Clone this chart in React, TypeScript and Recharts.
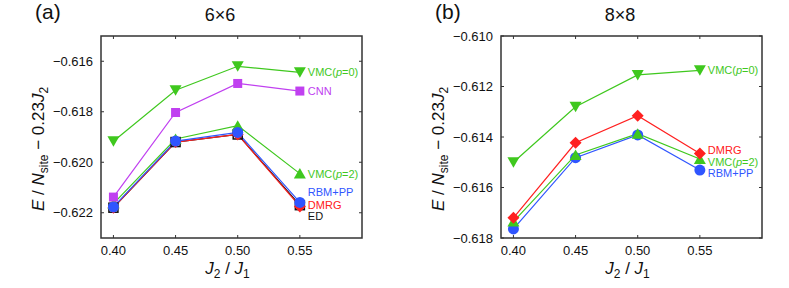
import { LineChart, Line, XAxis, YAxis } from 'recharts';

// J2/J1 values
const X_VALUES = [0.4, 0.45, 0.5, 0.55];
const X_TICKS = [0.4, 0.45, 0.5, 0.55];
const X_DOMAIN: [number, number] = [0.39, 0.6];

// 6x6 lattice
const Y_TICKS_6 = [-0.622, -0.62, -0.618, -0.616];
const VMC0_6 = [-0.61917, -0.61715, -0.6162, -0.61644];
const CNN_6 = [-0.62138, -0.61803, -0.61688, -0.61718];
const VMC2_6 = [-0.62164, -0.61908, -0.61855, -0.62045];
const RBM_6 = [-0.62177, -0.61916, -0.61882, -0.62159];
const DMRG_6 = [-0.6218, -0.6192, -0.6189, -0.62175];
const ED_6 = [-0.6218, -0.6192, -0.6189, -0.6217];

// 8x8 lattice
const Y_TICKS_8 = [-0.618, -0.616, -0.614, -0.612, -0.61];
const VMC0_8 = [-0.615, -0.6128, -0.61154, -0.61136];
const DMRG_8 = [-0.6172, -0.61423, -0.61316, -0.61465];
const VMC2_8 = [-0.61735, -0.61471, -0.61387, -0.61487];
const RBM_8 = [-0.61764, -0.61482, -0.61392, -0.61531];

const GREEN = '#3fc81e';
const PURPLE = '#c040f0';
const BLUE = '#2f55ff';
const RED = '#ff2020';
const BLACK = '#111111';
const AXIS = '#333333';
const FONT = '"Liberation Sans", Arial, Helvetica, sans-serif';

// panel layout
const CHART_W = 389;
const CHART_H = 288;
const MARGIN = { top: 36, right: 27, bottom: 20, left: 41 };
const Y_AXIS_W = 60;
const X_AXIS_H = 30;
const PLOT_X = MARGIN.left + Y_AXIS_W;
const PLOT_W = CHART_W - PLOT_X - MARGIN.right;
const PLOT_H = CHART_H - MARGIN.top - MARGIN.bottom - X_AXIS_H;
const TICK = 3;

type Shape = 'down' | 'up' | 'square' | 'openSquare' | 'circle' | 'diamond';

interface SeriesDef {
  key: string;
  name: string;
  color: string;
  shape: Shape;
  labelDy: number;
}

const Marker = ({ cx, cy, shape, color }: { cx: number; cy: number; shape: Shape; color: string }) => {
  switch (shape) {
    case 'down':
      return <polygon points={`${cx - 6},${cy - 5} ${cx + 6},${cy - 5} ${cx},${cy + 5.5}`} fill={color} />;
    case 'up':
      return <polygon points={`${cx - 6},${cy + 5} ${cx + 6},${cy + 5} ${cx},${cy - 5.5}`} fill={color} />;
    case 'square':
      return <rect x={cx - 4.5} y={cy - 4.5} width={9} height={9} fill={color} />;
    case 'openSquare':
      return <rect x={cx - 4.5} y={cy - 4.5} width={9} height={9} fill="none" stroke={color} strokeWidth={1.5} />;
    case 'circle':
      return <circle cx={cx} cy={cy} r={5.5} fill={color} />;
    default:
      return <polygon points={`${cx},${cy - 6} ${cx + 6},${cy} ${cx},${cy + 6} ${cx - 6},${cy}`} fill={color} />;
  }
};

// italic "p" inside VMC(p=..)
const labelText = (name: string) => {
  if (name.startsWith('VMC(')) {
    return (
      <>
        VMC(<tspan fontStyle="italic">p</tspan>
        {name.slice(5)}
      </>
    );
  }
  return name;
};

const fmtY = (v: number) => `\u2212${Math.abs(v).toFixed(3)}`;
const fmtX = (v: number) => v.toFixed(2);

// left tick: label + inward tick + mirrored tick on the right edge
const YTick = ({ x, y, payload }: any) => (
  <g>
    <line x1={x} y1={y} x2={x + TICK} y2={y} stroke={AXIS} />
    <line x1={x + PLOT_W} y1={y} x2={x + PLOT_W - TICK} y2={y} stroke={AXIS} />
    <text x={x - 8} y={y} dy="0.36em" textAnchor="end" fontSize={13} fontFamily={FONT} fill="#111">
      {fmtY(payload.value)}
    </text>
  </g>
);

// bottom tick: label + inward tick + mirrored tick on the top edge
const XTick = ({ x, y, payload }: any) => (
  <g>
    <line x1={x} y1={y} x2={x} y2={y - TICK} stroke={AXIS} />
    <line x1={x} y1={y - PLOT_H} x2={x} y2={y - PLOT_H + TICK} stroke={AXIS} />
    <text x={x} y={y + 17} textAnchor="middle" fontSize={13} fontFamily={FONT} fill="#111">
      {fmtX(payload.value)}
    </text>
  </g>
);

const YLabel = ({ viewBox }: any) => {
  const x = viewBox.x + 3;
  const y = viewBox.y + viewBox.height / 2 + 12;
  return (
    <text x={x} y={y} transform={`rotate(-90, ${x}, ${y})`} textAnchor="middle" fontSize={17} fontFamily={FONT} fill="#111">
      <tspan fontStyle="italic">E</tspan> / <tspan fontStyle="italic">N</tspan>
      <tspan fontSize={12} dy={4}>site</tspan>
      <tspan dy={-4}> {'\u2212'} 0.23</tspan>
      <tspan fontStyle="italic">J</tspan>
      <tspan fontSize={12} dy={4}>2</tspan>
    </text>
  );
};

const XLabel = ({ viewBox }: any) => {
  const x = viewBox.x + viewBox.width / 2 - 4;
  const y = viewBox.y + 36;
  return (
    <text x={x} y={y} textAnchor="middle" fontSize={17} fontFamily={FONT} fill="#111">
      <tspan fontStyle="italic">J</tspan>
      <tspan fontSize={12} dy={4}>2</tspan>
      <tspan dy={-4}> / </tspan>
      <tspan fontStyle="italic">J</tspan>
      <tspan fontSize={12} dy={4}>1</tspan>
    </text>
  );
};

interface PanelProps {
  tag: string;
  title: string;
  left: number;
  rows: Record<string, number>[];
  series: SeriesDef[];
  yDomain: [number, number];
  yTicks: number[];
}

const Panel = ({ tag, title, left, rows, series, yDomain, yTicks }: PanelProps) => {
  const last = rows.length - 1;
  return (
    <div style={{ position: 'absolute', left, top: 0, width: CHART_W, height: CHART_H }}>
      <LineChart width={CHART_W} height={CHART_H} data={rows} margin={MARGIN}>
        <XAxis
          dataKey="x"
          type="number"
          domain={X_DOMAIN}
          ticks={X_TICKS}
          tick={<XTick />}
          tickLine={false}
          tickSize={0}
          tickMargin={0}
          height={X_AXIS_H}
          allowDataOverflow
          axisLine={false}
          label={(p: any) => <XLabel {...p} />}
        />
        <YAxis
          type="number"
          domain={yDomain}
          ticks={yTicks}
          tick={<YTick />}
          tickLine={false}
          tickSize={0}
          tickMargin={0}
          width={Y_AXIS_W}
          allowDataOverflow
          axisLine={false}
          label={(p: any) => <YLabel {...p} />}
        />
        {series.map((s) => (
          <Line
            key={s.key}
            type="linear"
            dataKey={s.key}
            stroke={s.color}
            strokeWidth={1.2}
            isAnimationActive={false}
            activeDot={false}
            dot={(p: any) => (
              <g key={`${s.key}-${p.index}`}>
                <Marker cx={p.cx} cy={p.cy} shape={s.shape} color={s.color} />
                {p.index === last && (
                  <text
                    x={p.cx + 8}
                    y={p.cy + s.labelDy}
                    dy="0.36em"
                    fontSize={11}
                    fontFamily={FONT}
                    fill={s.shape === 'openSquare' ? BLACK : s.color}
                  >
                    {labelText(s.name)}
                  </text>
                )}
              </g>
            )}
          />
        ))}
      </LineChart>
      <svg width={CHART_W} height={CHART_H} style={{ position: 'absolute', left: 0, top: 0, pointerEvents: 'none' }}>
        <rect x={PLOT_X} y={MARGIN.top} width={PLOT_W} height={PLOT_H} fill="none" stroke={AXIS} strokeWidth={1.5} />
        <text x={35} y={19} fontSize={21} fontFamily={FONT} fill="#111">
          {tag}
        </text>
        <text x={220} y={21} textAnchor="middle" fontSize={18} fontFamily={FONT} fill="#111">
          {title}
        </text>
      </svg>
    </div>
  );
};

const rows6 = X_VALUES.map((x, i) => ({
  x,
  ed: ED_6[i],
  dmrg: DMRG_6[i],
  vmc2: VMC2_6[i],
  rbm: RBM_6[i],
  cnn: CNN_6[i],
  vmc0: VMC0_6[i],
}));

const rows8 = X_VALUES.map((x, i) => ({
  x,
  dmrg: DMRG_8[i],
  vmc2: VMC2_8[i],
  rbm: RBM_8[i],
  vmc0: VMC0_8[i],
}));

const series6: SeriesDef[] = [
  { key: 'ed', name: 'ED', color: BLACK, shape: 'openSquare', labelDy: 11 },
  { key: 'dmrg', name: 'DMRG', color: RED, shape: 'diamond', labelDy: -1 },
  { key: 'vmc2', name: 'VMC(p=2)', color: GREEN, shape: 'up', labelDy: 0 },
  { key: 'rbm', name: 'RBM+PP', color: BLUE, shape: 'circle', labelDy: -10 },
  { key: 'cnn', name: 'CNN', color: PURPLE, shape: 'square', labelDy: 0 },
  { key: 'vmc0', name: 'VMC(p=0)', color: GREEN, shape: 'down', labelDy: 0 },
];

const series8: SeriesDef[] = [
  { key: 'rbm', name: 'RBM+PP', color: BLUE, shape: 'circle', labelDy: 3 },
  { key: 'vmc2', name: 'VMC(p=2)', color: GREEN, shape: 'up', labelDy: 3 },
  { key: 'dmrg', name: 'DMRG', color: RED, shape: 'diamond', labelDy: -3 },
  { key: 'vmc0', name: 'VMC(p=0)', color: GREEN, shape: 'down', labelDy: 0 },
];

export default function App() {
  return (
    <div style={{ position: 'absolute', left: 0, top: 0, width: 789, height: 288, background: '#fff' }}>
      <Panel tag="(a)" title="6×6" left={0} rows={rows6} series={series6} yDomain={[-0.623, -0.615]} yTicks={Y_TICKS_6} />
      <Panel tag="(b)" title="8×8" left={400} rows={rows8} series={series8} yDomain={[-0.618, -0.61]} yTicks={Y_TICKS_8} />
    </div>
  );
}
